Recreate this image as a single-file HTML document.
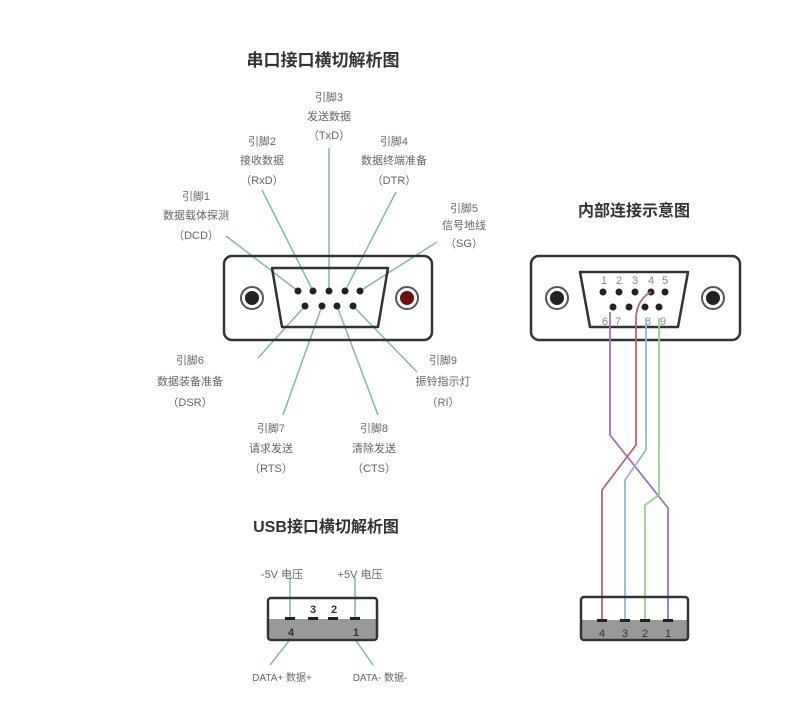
<!DOCTYPE html>
<html><head><meta charset="utf-8"><style>
body{margin:0;background:#fff;}
svg text{font-family:"Liberation Sans","Noto Sans CJK SC",sans-serif;}
</style></head><body>
<svg width="800" height="708" xmlns="http://www.w3.org/2000/svg">
<rect width="800" height="708" fill="#fff"/>
<g text-anchor="middle" fill="#666" font-size="11">
<text x="323" y="66" font-size="17" font-weight="bold" fill="#333">串口接口横切解析图</text>
<text x="329" y="101">引脚3</text><text x="329" y="120">发送数据</text><text x="329" y="139">（TxD）</text>
<text x="262" y="145">引脚2</text><text x="262" y="164">接收数据</text><text x="262" y="184">（RxD）</text>
<text x="394" y="145">引脚4</text><text x="394" y="164">数据终端准备</text><text x="394" y="184">（DTR）</text>
<text x="196" y="200">引脚1</text><text x="196" y="219">数据载体探测</text><text x="196" y="239">（DCD）</text>
<text x="464" y="212">引脚5</text><text x="464" y="229">信号地线</text><text x="464" y="247">（SG）</text>
<text x="190" y="364">引脚6</text><text x="190" y="385">数据装备准备</text><text x="190" y="406">（DSR）</text>
<text x="271" y="432">引脚7</text><text x="271" y="452">请求发送</text><text x="271" y="472">（RTS）</text>
<text x="374" y="432">引脚8</text><text x="374" y="452">清除发送</text><text x="374" y="472">（CTS）</text>
<text x="443" y="364">引脚9</text><text x="443" y="385">振铃指示灯</text><text x="443" y="406">（RI）</text>
<text x="326" y="532" font-size="16" font-weight="bold" fill="#333">USB接口横切解析图</text>
<text x="634" y="216" font-size="16" font-weight="bold" fill="#333">内部连接示意图</text>
<text x="282" y="578">-5V 电压</text><text x="360" y="578">+5V 电压</text>
<text x="282" y="681" font-size="10">DATA+ 数据+</text><text x="380" y="681" font-size="10">DATA- 数据-</text>
</g>
<!-- left connector lines -->
<g stroke="#7ab8b8" stroke-width="1.5" fill="none">
<line x1="298" y1="291" x2="226" y2="236"/>
<line x1="313" y1="291" x2="262" y2="190"/>
<line x1="329" y1="291" x2="329" y2="148"/>
<line x1="345" y1="291" x2="396" y2="192"/>
<line x1="360" y1="291" x2="437" y2="242"/>
<line x1="305" y1="306" x2="258" y2="358"/>
<line x1="322" y1="306" x2="283" y2="415"/>
<line x1="337" y1="306" x2="378" y2="415"/>
<line x1="353" y1="306" x2="417" y2="372"/>
<line x1="290" y1="579" x2="290" y2="619"/>
<line x1="355" y1="578" x2="355" y2="619"/>
<line x1="296" y1="632" x2="270" y2="665"/>
<line x1="350" y1="632" x2="373" y2="665"/>
</g>
<g stroke="#333" stroke-width="2.5" fill="none">
<rect x="224" y="256" width="208" height="84" rx="8" fill="none"/>
<path d="M272 268 H388 L378 327 H282 Z" stroke-linejoin="round"/>
<rect x="531" y="256" width="209" height="84" rx="8"/>
<path d="M580 272 H688 L678 327 H590 Z" stroke-linejoin="round"/>
</g>
<circle cx="252" cy="298" r="11" fill="#fff" stroke="#555" stroke-width="2"/><circle cx="252" cy="298" r="7" fill="#222"/>
<circle cx="407" cy="298" r="11" fill="#fff" stroke="#555" stroke-width="2"/><circle cx="407" cy="298" r="7" fill="#6a1010"/>
<circle cx="557" cy="298" r="11" fill="#fff" stroke="#555" stroke-width="2"/><circle cx="557" cy="298" r="7" fill="#222"/>
<circle cx="713" cy="298" r="11" fill="#fff" stroke="#555" stroke-width="2"/><circle cx="713" cy="298" r="7" fill="#222"/>
<g fill="#222">
<circle cx="298" cy="291" r="3.5"/><circle cx="313" cy="291" r="3.5"/><circle cx="329" cy="291" r="3.5"/><circle cx="345" cy="291" r="3.5"/><circle cx="360" cy="291" r="3.5"/>
<circle cx="305" cy="306" r="3.5"/><circle cx="322" cy="306" r="3.5"/><circle cx="337" cy="306" r="3.5"/><circle cx="353" cy="306" r="3.5"/>
<circle cx="603" cy="292" r="3.5"/><circle cx="619" cy="292" r="3.5"/><circle cx="635" cy="292" r="3.5"/><circle cx="651" cy="292" r="3.5"/><circle cx="665" cy="292" r="3.5"/>
<circle cx="613" cy="307" r="3.5"/><circle cx="629" cy="307" r="3.5"/><circle cx="645" cy="307" r="3.5"/><circle cx="659" cy="307" r="3.5"/>
</g>
<g text-anchor="middle" fill="#888" font-size="11">
<text x="604" y="284">1</text><text x="619" y="284">2</text><text x="635" y="284">3</text><text x="651" y="284">4</text><text x="665" y="284">5</text>
<text x="605" y="325">6</text><text x="618" y="325">7</text><text x="648" y="325">8</text><text x="663" y="325">9</text>
</g>
<!-- wires -->
<g fill="none" stroke-width="1.8">
<path d="M610 312 V435 L668 508 V620" stroke="#a070c0"/>
<path d="M651 292 Q636 300 636 320 V445 L602 490 V620" stroke="#c06070"/>
<path d="M646 318 V450 L625 480 V620" stroke="#90b8d8"/>
<path d="M659 318 V495 L645 505 V620" stroke="#90d880"/>
</g>
<!-- USB boxes -->
<rect x="268" y="619" width="109" height="21" fill="#999"/>
<rect x="268" y="598" width="109" height="42" rx="3" fill="none" stroke="#333" stroke-width="2.5"/>
<rect x="581" y="620" width="107" height="20" fill="#999"/>
<rect x="581" y="597" width="107" height="43" rx="3" fill="none" stroke="#333" stroke-width="2.5"/>
<g fill="#222">
<rect x="285" y="617" width="10" height="3"/><rect x="308" y="617" width="10" height="3"/><rect x="328" y="617" width="10" height="3"/><rect x="350" y="617" width="10" height="3"/>
<rect x="597" y="619" width="10" height="3"/><rect x="620" y="619" width="10" height="3"/><rect x="640" y="619" width="10" height="3"/><rect x="663" y="619" width="10" height="3"/>
</g>
<g text-anchor="middle" font-size="11" font-weight="bold" fill="#333">
<text x="313" y="613">3</text><text x="334" y="613">2</text><text x="291" y="636">4</text><text x="356" y="636">1</text>
<text x="602" y="637" font-weight="normal">4</text><text x="625" y="637" font-weight="normal">3</text><text x="645" y="637" font-weight="normal">2</text><text x="668" y="637" font-weight="normal">1</text>
</g>
</svg>
</body></html>
